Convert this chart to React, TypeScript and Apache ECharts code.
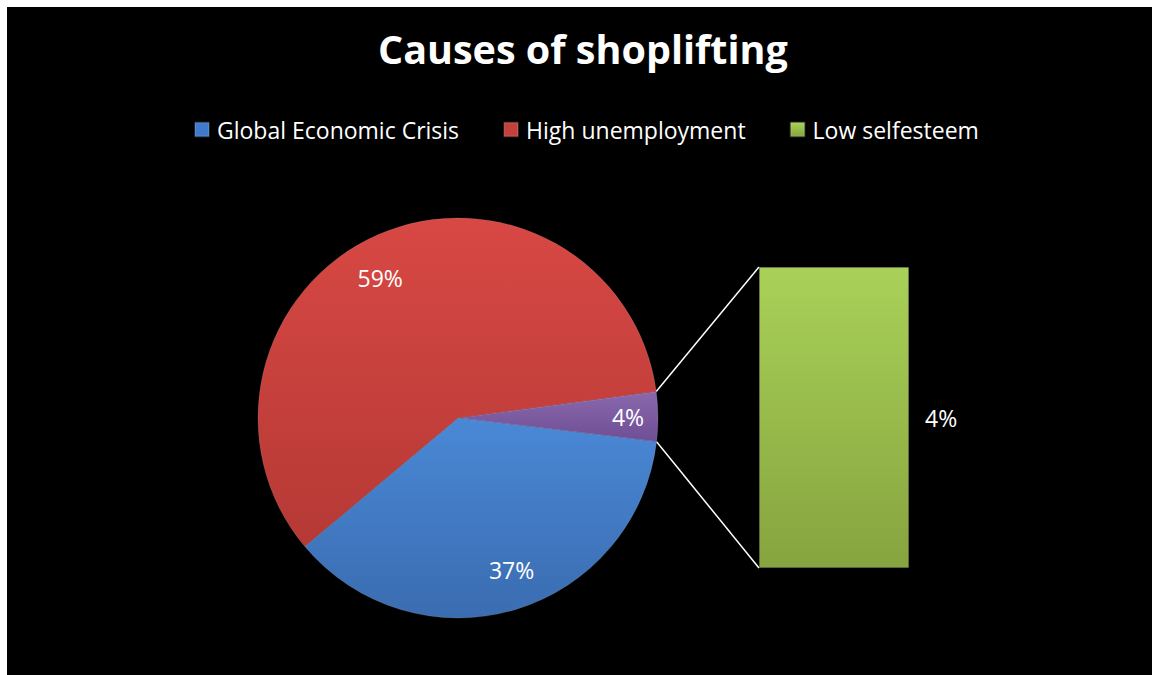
import React, { useEffect, useRef } from 'react';
import * as echarts from 'echarts';

const titleText = 'Causes of shoplifting';
const pieCategories = ['Global Economic Crisis', 'High unemployment'];
const pieValues = [37, 59];
const splitCategories = ['Low selfesteem'];
const splitValues = [4];
const otherName = 'Other';
const legendNames = ['Global Economic Crisis', 'High unemployment', 'Low selfesteem'];

const FONT = '"Open Sans", "Noto Sans", sans-serif';

const grad = (top: string, bottom: string) =>
  new echarts.graphic.LinearGradient(0, 0, 0, 1, [
    { offset: 0, color: top },
    { offset: 1, color: bottom },
  ]);

export default function App() {
  const ref = useRef<HTMLDivElement>(null);

  useEffect(() => {
    if (!ref.current) return;
    const chart = echarts.init(ref.current, undefined, { renderer: 'svg' });

    const otherTotal = splitValues.reduce((a, b) => a + b, 0);
    const total = pieValues.reduce((a, b) => a + b, 0) + otherTotal;
    const otherAngle = (otherTotal / total) * 360;
    const startAngle = otherAngle / 2 + 0.4;

    const cx = 458;
    const cy = 418;
    const r = 200;
    const barLeft = 759;
    const barTop = 267;
    const barW = 150;
    const barH = 301;

    const pt = (deg: number) => {
      const a = (deg * Math.PI) / 180;
      return [cx + r * Math.cos(a), cy - r * Math.sin(a)];
    };
    const p1 = pt(startAngle);
    const p2 = pt(startAngle - otherAngle);

    const colors: Record<string, any> = {
      [otherName]: grad('#8A68AE', '#6E4E94'),
      'Global Economic Crisis': grad('#4A88D6', '#3A6CB0'),
      'High unemployment': grad('#D84844', '#B53935'),
    };
    const labelNudge: Record<string, number[]> = {
      [otherName]: [7, 0],
      'Global Economic Crisis': [7, -4],
      'High unemployment': [-12, 9],
    };
    const legendColors: Record<string, string> = {
      'Global Economic Crisis': '#3F7ACC',
      'High unemployment': '#C3403C',
    };

    const pieData = [
      { name: otherName, value: otherTotal },
      ...pieCategories.map((n, i) => ({ name: n, value: pieValues[i] })),
    ];

    chart.setOption({
      animation: false,
      backgroundColor: '#ffffff',
      graphic: [
        {
          type: 'rect',
          z: -100,
          silent: true,
          shape: { x: 7, y: 7, width: 1145, height: 668 },
          style: { fill: '#000000' },
        },
        {
          type: 'line',
          z: 1,
          silent: true,
          shape: { x1: p1[0], y1: p1[1], x2: barLeft, y2: barTop },
          style: { stroke: '#ffffff', lineWidth: 1.5 },
        },
        {
          type: 'line',
          z: 1,
          silent: true,
          shape: { x1: p2[0], y1: p2[1], x2: barLeft, y2: barTop + barH },
          style: { stroke: '#ffffff', lineWidth: 1.5 },
        },
      ],
      title: {
        text: titleText,
        left: 373,
        top: 24,
        textStyle: { color: '#ffffff', fontSize: 39.5, fontWeight: 'bold', fontFamily: FONT },
      },
      legend: {
        data: legendNames.map((n) => ({ name: n, itemStyle: legendColors[n] ? { color: legendColors[n] } : undefined })),
        left: 189,
        top: 113,
        itemWidth: 14,
        itemHeight: 14,
        itemGap: 44,
        icon: 'rect',
        textStyle: { color: '#ffffff', fontSize: 23, fontFamily: FONT, padding: [0, 0, 0, 3] },
      },
      grid: { left: barLeft, top: barTop, width: barW, height: barH },
      xAxis: { type: 'category', data: splitCategories, show: false },
      yAxis: { type: 'value', min: 0, max: otherTotal, show: false },
      series: [
        {
          type: 'pie',
          name: 'main',
          center: [cx, cy],
          radius: [0, r],
          startAngle,
          clockwise: true,
          data: pieData.map((d) => ({ ...d, itemStyle: { color: colors[d.name] } })),
          itemStyle: { borderColor: 'rgba(255,255,255,0.12)', borderWidth: 1 },
          label: { show: false },
          labelLine: { show: false },
          emphasis: { disabled: true },
        },
        {
          type: 'pie',
          name: 'labels',
          center: [cx, cy],
          radius: [r * 0.6, r],
          startAngle,
          clockwise: true,
          silent: true,
          legendHoverLink: false,
          data: pieData.map((d) => ({
            ...d,
            itemStyle: { color: 'rgba(0,0,0,0)' },
            label: { offset: labelNudge[d.name] },
          })),
          label: {
            show: true,
            position: 'inside',
            formatter: (p: any) => `${Math.round(p.percent)}%`,
            color: '#ffffff',
            fontSize: 23,
            fontFamily: FONT,
          },
          labelLine: { show: false },
          emphasis: { disabled: true },
        },
        {
          type: 'bar',
          name: splitCategories[0],
          data: splitValues,
          barWidth: '100%',
          itemStyle: {
            color: grad('#A9D158', '#86A43F'),
            borderColor: 'rgba(255,255,255,0.12)',
            borderWidth: 1,
          },
          label: {
            show: true,
            position: 'right',
            distance: 16,
            formatter: (p: any) => `${Math.round((p.value / total) * 100)}%`,
            color: '#ffffff',
            fontSize: 23,
            fontFamily: FONT,
          },
          emphasis: { disabled: true },
        },
      ],
    });

    return () => chart.dispose();
  }, []);

  return <div ref={ref} style={{ position: 'fixed', left: 0, top: 0, width: 1152, height: 675 }} />;
}
